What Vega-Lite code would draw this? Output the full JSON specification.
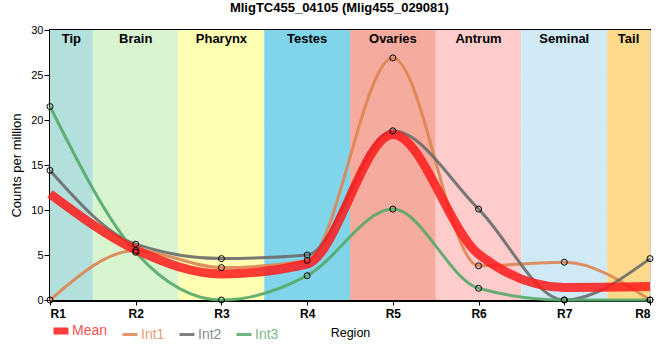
{
  "$schema": "https://vega.github.io/schema/vega-lite/v6.json",
  "autosize": {"type": "none"},
  "width": 600,
  "height": 270,
  "padding": {"left": 50, "top": 30, "right": 10, "bottom": 60},
  "background": "white",
  "title": {
    "text": "MligTC455_04105 (Mlig455_029081)",
    "font": "Liberation Sans",
    "fontSize": 13,
    "fontWeight": "bold",
    "color": "#000",
    "anchor": "middle",
    "frame": "bounds",
    "offset": 9
  },
  "config": {
    "view": {"stroke": "#000", "strokeWidth": 2},
    "axis": {"labelFont": "Liberation Sans", "titleFont": "Liberation Sans", "gridColor": "#cccccc", "gridWidth": 1, "zindex": 1}
  },
  "datasets": {
    "bands": [
      {"tissue": "Tip", "start": 1, "end": 1.5, "mid": 1.25},
      {"tissue": "Brain", "start": 1.5, "end": 2.5, "mid": 2},
      {"tissue": "Pharynx", "start": 2.5, "end": 3.5, "mid": 3},
      {"tissue": "Testes", "start": 3.5, "end": 4.5, "mid": 4},
      {"tissue": "Ovaries", "start": 4.5, "end": 5.5, "mid": 5},
      {"tissue": "Antrum", "start": 5.5, "end": 6.5, "mid": 6},
      {"tissue": "Seminal", "start": 6.5, "end": 7.5, "mid": 7},
      {"tissue": "Tail", "start": 7.5, "end": 8, "mid": 7.75}
    ],
    "expr": [
      {"r": 1, "series": "Int1", "v": 0},
      {"r": 2, "series": "Int1", "v": 5.5},
      {"r": 3, "series": "Int1", "v": 3.6},
      {"r": 4, "series": "Int1", "v": 4.4},
      {"r": 5, "series": "Int1", "v": 26.9},
      {"r": 6, "series": "Int1", "v": 3.8},
      {"r": 7, "series": "Int1", "v": 4.2},
      {"r": 8, "series": "Int1", "v": 0},
      {"r": 1, "series": "Int2", "v": 14.4},
      {"r": 2, "series": "Int2", "v": 6.2},
      {"r": 3, "series": "Int2", "v": 4.6},
      {"r": 4, "series": "Int2", "v": 5.0},
      {"r": 5, "series": "Int2", "v": 18.8},
      {"r": 6, "series": "Int2", "v": 10.1},
      {"r": 7, "series": "Int2", "v": 0},
      {"r": 8, "series": "Int2", "v": 4.6},
      {"r": 1, "series": "Int3", "v": 21.5},
      {"r": 2, "series": "Int3", "v": 5.3},
      {"r": 3, "series": "Int3", "v": 0},
      {"r": 4, "series": "Int3", "v": 2.7},
      {"r": 5, "series": "Int3", "v": 10.1},
      {"r": 6, "series": "Int3", "v": 1.3},
      {"r": 7, "series": "Int3", "v": 0},
      {"r": 8, "series": "Int3", "v": 0},
      {"r": 1, "series": "Mean", "v": 11.8},
      {"r": 2, "series": "Mean", "v": 5.6},
      {"r": 3, "series": "Mean", "v": 2.9},
      {"r": 4, "series": "Mean", "v": 4.0},
      {"r": 5, "series": "Mean", "v": 18.4},
      {"r": 6, "series": "Mean", "v": 5.1},
      {"r": 7, "series": "Mean", "v": 1.4},
      {"r": 8, "series": "Mean", "v": 1.5}
    ]
  },
  "encoding": {
    "x": {
      "type": "quantitative",
      "scale": {"domain": [1, 8], "nice": false, "zero": false},
      "axis": {
        "title": "Region",
        "titleFontSize": 12.5,
        "titleFontWeight": "normal",
        "titleColor": "#000",
        "titlePadding": 7,
        "values": [1, 2, 3, 4, 5, 6, 7, 8],
        "labelExpr": "'R' + datum.value",
        "labelFontSize": 12,
        "labelFontWeight": "bold",
        "labelColor": "#000",
        "labelPadding": 3,
        "tickColor": "#000",
        "tickSize": 5,
        "domainColor": "#000",
        "domainWidth": 3,
        "grid": true
      }
    },
    "y": {
      "type": "quantitative",
      "scale": {"domain": [0, 30], "nice": false},
      "axis": {
        "title": "Counts per million",
        "titleFontSize": 13,
        "titleFontWeight": "normal",
        "titleColor": "#000",
        "titlePadding": 7,
        "values": [0, 5, 10, 15, 20, 25, 30],
        "labelFontSize": 11,
        "labelColor": "#000",
        "labelPadding": 1,
        "tickColor": "#000",
        "tickSize": 6,
        "domainColor": "#000",
        "domainWidth": 2,
        "grid": true
      }
    }
  },
  "layer": [
    {
      "data": {"name": "bands"},
      "mark": {"type": "rect"},
      "encoding": {
        "x": {"field": "start"},
        "x2": {"field": "end"},
        "y": {"datum": 0},
        "y2": {"datum": 30},
        "fill": {
          "field": "tissue",
          "type": "nominal",
          "scale": {
            "domain": ["Tip", "Brain", "Pharynx", "Testes", "Ovaries", "Antrum", "Seminal", "Tail"],
            "range": ["#b3e0dd", "#d8f5d0", "#ffffb4", "#80d5eb", "#f5ab9d", "#ffcccc", "#cfeaf4", "#ffd98c"]
          },
          "legend": null
        }
      }
    },
    {
      "data": {"name": "bands"},
      "mark": {"type": "text", "font": "Liberation Sans", "fontSize": 13, "fontWeight": "bold", "color": "#000", "baseline": "top", "dy": 3},
      "encoding": {
        "x": {"field": "mid"},
        "y": {"datum": 30},
        "text": {"field": "tissue"}
      }
    },
    {
      "data": {"name": "expr"},
      "transform": [{"filter": "datum.series !== 'Mean'"}],
      "mark": {"type": "line", "interpolate": "monotone", "strokeWidth": 3, "strokeOpacity": 0.9},
      "encoding": {
        "x": {"field": "r"},
        "y": {"field": "v"},
        "stroke": {
          "field": "series",
          "type": "nominal",
          "scale": {"domain": ["Mean", "Int1", "Int2", "Int3"], "range": ["#ff1a1a", "#dd8452", "#6b6b6b", "#55a868"]},
          "legend": {
            "title": null,
            "orient": "none",
            "direction": "horizontal",
            "legendX": 4,
            "legendY": 294,
            "padding": 0,
            "symbolType": "stroke",
            "symbolSize": 225,
            "symbolStrokeWidth": 3,
            "labelFont": "Liberation Sans",
            "labelFontSize": 14,
            "labelOffset": 4,
            "columnPadding": 8,
            "encode": {
              "symbols": {"update": {"strokeWidth": {"signal": "datum.value === 'Mean' ? 7 : 3"}, "strokeOpacity": {"value": 0.85}}},
              "labels": {"update": {"fill": {"scale": "stroke", "field": "value"}, "fillOpacity": {"value": 0.8}}}
            }
          }
        }
      }
    },
    {
      "data": {"name": "expr"},
      "transform": [{"filter": "datum.series === 'Mean'"}],
      "mark": {"type": "line", "interpolate": "monotone", "strokeWidth": 9, "strokeOpacity": 0.85},
      "encoding": {
        "x": {"field": "r"},
        "y": {"field": "v"},
        "stroke": {"field": "series", "type": "nominal"}
      }
    },
    {
      "data": {"name": "expr"},
      "transform": [{"filter": "datum.series !== 'Mean'"}],
      "mark": {"type": "point", "shape": "circle", "filled": false, "size": 36, "stroke": "#000", "strokeWidth": 1, "opacity": 1},
      "encoding": {
        "x": {"field": "r"},
        "y": {"field": "v"}
      }
    }
  ]
}
